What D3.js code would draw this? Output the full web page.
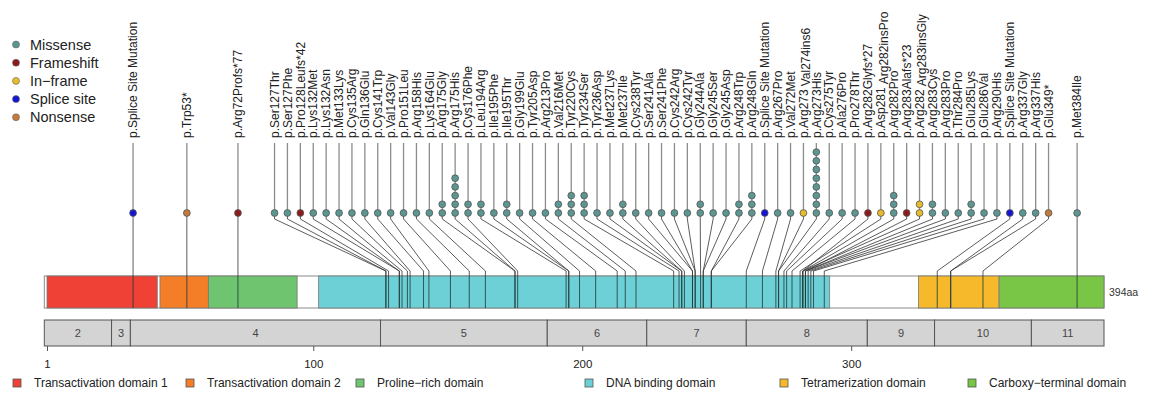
<!DOCTYPE html>
<html>
<head>
<meta charset="utf-8">
<script src="https://cdn.jsdelivr.net/npm/d3@7"></script>
<style>
  body { margin: 0; background: #fff; }
  svg { display: block; font-family: "Liberation Sans", Arial, sans-serif; }
</style>
</head>
<body>
<svg id="chart" width="1149" height="398"></svg>
<script>
// protein length and domains
const proteinLength = 394;
const domainNames = ["Transactivation domain 1", "Transactivation domain 2", "Proline\u2212rich domain",
  "DNA binding domain", "Tetramerization domain", "Carboxy\u2212terminal domain"];
const domainStart = [1, 43, 61, 102, 325, 355];
const domainEnd = [42, 61, 94, 292, 355, 394];
const domainColors = ["#ef4136", "#f47d28", "#6fc46f", "#6dd0d6", "#f6b92b", "#79c545"];

// exons (boundaries in amino acids)
const exonNames = ["2", "3", "4", "5", "6", "7", "8", "9", "10", "11"];
const exonBreaks = [0, 25, 32, 125, 187, 224, 261, 306, 331, 367, 394];

const axisTicks = [1, 100, 200, 300];

// mutations
const mutLabels = ["p.Splice Site Mutation", "p.Trp53*", "p.Arg72Profs*77", "p.Ser127Thr", "p.Ser127Phe",
  "p.Pro128Leufs*42", "p.Lys132Met", "p.Lys132Asn", "p.Met133Lys", "p.Cys135Arg", "p.Gln136Glu",
  "p.Cys141Trp", "p.Val143Gly", "p.Pro151Leu", "p.Arg158His", "p.Lys164Glu", "p.Arg175Gly",
  "p.Arg175His", "p.Cys176Phe", "p.Leu194Arg", "p.Ile195Phe", "p.Ile195Thr", "p.Gly199Glu",
  "p.Tyr205Asp", "p.Arg213Pro", "p.Val216Met", "p.Tyr220Cys", "p.Tyr234Ser", "p.Tyr236Asp",
  "p.Met237Lys", "p.Met237Ile", "p.Cys238Tyr", "p.Ser241Ala", "p.Ser241Phe", "p.Cys242Arg",
  "p.Cys242Tyr", "p.Gly244Ala", "p.Gly245Ser", "p.Gly245Asp", "p.Arg248Trp", "p.Arg248Gln",
  "p.Splice Site Mutation", "p.Arg267Pro", "p.Val272Met", "p.Arg273_Val274ins6", "p.Arg273His",
  "p.Cys275Tyr", "p.Ala276Pro", "p.Pro278Thr", "p.Arg282Glyfs*27", "p.Asp281_Arg282insPro",
  "p.Arg282Pro", "p.Arg283Alafs*23", "p.Arg282_Arg283insGly", "p.Arg283Cys", "p.Arg283Pro",
  "p.Thr284Pro", "p.Glu285Lys", "p.Glu286Val", "p.Arg290His", "p.Splice Site Mutation",
  "p.Arg337Gly", "p.Arg337His", "p.Glu349*", "p.Met384Ile"];
const mutPos = [33, 53, 72, 127, 127, 128, 132, 132, 133, 135, 136, 141, 143, 151, 158, 164, 175,
  175, 176, 194, 195, 195, 199, 205, 213, 216, 220, 234, 236, 237, 237, 238, 241, 241, 242,
  242, 244, 245, 245, 248, 248, 261, 267, 272, 273, 273, 275, 276, 278, 282, 281,
  282, 283, 282, 283, 283, 284, 285, 286, 290, 332, 337, 337, 349, 384];
const mutType = ["Splice site", "Nonsense", "Frameshift", "Missense", "Missense",
  "Frameshift", "Missense", "Missense", "Missense", "Missense", "Missense",
  "Missense", "Missense", "Missense", "Missense", "Missense", "Missense",
  "Missense", "Missense", "Missense", "Missense", "Missense", "Missense",
  "Missense", "Missense", "Missense", "Missense", "Missense", "Missense",
  "Missense", "Missense", "Missense", "Missense", "Missense", "Missense",
  "Missense", "Missense", "Missense", "Missense", "Missense", "Missense",
  "Splice site", "Missense", "Missense", "In\u2212frame", "Missense",
  "Missense", "Missense", "Missense", "Frameshift", "In\u2212frame",
  "Missense", "Frameshift", "In\u2212frame", "Missense", "Missense",
  "Missense", "Missense", "Missense", "Missense", "Splice site",
  "Missense", "Missense", "Nonsense", "Missense"];
const mutCount = [1, 1, 1, 1, 1, 1, 1, 1, 1, 1, 1, 1, 1, 1, 1, 1, 2,
  5, 2, 2, 1, 2, 1, 1, 1, 2, 3, 3, 1, 1, 2, 1, 1, 1, 1,
  1, 2, 1, 1, 2, 3, 1, 1, 1, 1, 8, 1, 1, 1, 1, 1,
  3, 1, 2, 2, 1, 1, 2, 1, 1, 1, 1, 1, 1, 1];

const typeNames = ["Missense", "Frameshift", "In\u2212frame", "Splice site", "Nonsense"];
const typeColors = ["#5b9690", "#8a1c1c", "#e6bb2c", "#1414d2", "#c27b3c"];

// layout
const barTop = 276, barBottom = 308;
const exonTop = 320, exonBottom = 346;
const labelBase = 138, stemTop = 143;
const dotY = 213, dotStep = 8.7, dotR = 3.4;
const elbowTop = 219, elbowBottom = 271;
const labelGap = 12.9;

const svg = d3.select("#chart");

const x = d3.scaleLinear()
  .domain([1, proteinLength])
  .range([47, 1104]);

const color = d3.scaleOrdinal().domain(typeNames).range(typeColors);

const muts = mutLabels.map((label, i) => ({
  label: label, pos: mutPos[i], type: mutType[i], count: mutCount[i]
}));

// spread labels so they don't overlap (clusters centred on mean position)
let clusters = muts.map(d => ({ items: [d], sum: x(d.pos) }));
let merged = true;
while (merged) {
  merged = false;
  for (let i = 0; i < clusters.length - 1; i++) {
    const a = clusters[i], b = clusters[i + 1];
    const aRight = a.sum / a.items.length + (a.items.length - 1) * labelGap / 2;
    const bLeft = b.sum / b.items.length - (b.items.length - 1) * labelGap / 2;
    if (bLeft - aRight < labelGap) {
      clusters.splice(i, 2, { items: a.items.concat(b.items), sum: a.sum + b.sum });
      merged = true;
      break;
    }
  }
}
clusters.forEach(c => {
  const start = c.sum / c.items.length - (c.items.length - 1) * labelGap / 2;
  c.items.forEach((d, k) => { d.lx = start + k * labelGap; });
});

// backbone + domains
svg.append("rect")
  .attr("x", x(0)).attr("y", barTop)
  .attr("width", x(proteinLength) - x(0)).attr("height", barBottom - barTop)
  .attr("fill", "#fff").attr("stroke", "#8a8a8a").attr("stroke-width", 1);

svg.selectAll(".domain")
  .data(domainNames)
  .enter()
  .append("rect")
  .attr("x", (d, i) => x(domainStart[i]))
  .attr("y", barTop)
  .attr("width", (d, i) => x(domainEnd[i]) - x(domainStart[i]))
  .attr("height", barBottom - barTop)
  .attr("fill", (d, i) => domainColors[i])
  .attr("stroke", "#777")
  .attr("stroke-width", 0.8);

// mutation lines inside the bar
svg.selectAll(".inbar")
  .data(muts)
  .enter()
  .append("line")
  .attr("x1", d => x(d.pos)).attr("x2", d => x(d.pos))
  .attr("y1", barTop).attr("y2", barBottom)
  .attr("stroke", "#1f3a3a").attr("stroke-width", 1).attr("opacity", 0.8);

svg.append("text")
  .attr("x", x(proteinLength) + 5).attr("y", (barTop + barBottom) / 2)
  .attr("dy", "0.35em")
  .style("font-size", "10.5px").style("fill", "#333")
  .text(proteinLength + "aa");

// connectors from bar to dots
svg.selectAll(".connector")
  .data(muts)
  .enter()
  .append("path")
  .attr("d", d => `M${x(d.pos)},${barTop}L${x(d.pos)},${elbowBottom}L${d.lx},${elbowTop}L${d.lx},${dotY}`)
  .attr("fill", "none")
  .attr("stroke", "#333")
  .attr("stroke-width", 0.8);

// stems above the dots
svg.selectAll(".stem")
  .data(muts)
  .enter()
  .append("line")
  .attr("x1", d => d.lx).attr("x2", d => d.lx)
  .attr("y1", stemTop).attr("y2", dotY)
  .attr("stroke", "#8c8c8c")
  .attr("stroke-width", 1.3);

// stacked dots
const dots = [];
muts.forEach(d => {
  for (let k = 0; k < d.count; k++) dots.push({ x: d.lx, y: dotY - k * dotStep, type: d.type });
});
svg.selectAll(".dot")
  .data(dots)
  .enter()
  .append("circle")
  .attr("cx", d => d.x).attr("cy", d => d.y).attr("r", dotR)
  .attr("fill", d => color(d.type))
  .attr("stroke", "#555")
  .attr("stroke-width", 0.8);

// rotated labels (part after "_" drawn as subscript)
const labels = svg.selectAll(".mlabel")
  .data(muts)
  .enter()
  .append("text")
  .attr("transform", d => `translate(${d.lx},${labelBase}) rotate(-90)`)
  .attr("dy", "0.35em")
  .style("font-size", "12px")
  .style("fill", "#222");
labels.each(function (d) {
  const parts = d.label.split("_");
  const t = d3.select(this);
  t.append("tspan").text(parts[0]);
  if (parts.length > 1) {
    t.append("tspan").attr("dx", 3).attr("dy", 2.5).text(parts[1]);
  }
});

// exon boxes
svg.selectAll(".exon")
  .data(exonNames)
  .enter()
  .append("rect")
  .attr("x", (d, i) => x(exonBreaks[i]))
  .attr("y", exonTop)
  .attr("width", (d, i) => x(exonBreaks[i + 1]) - x(exonBreaks[i]))
  .attr("height", exonBottom - exonTop)
  .attr("fill", "#d4d4d4")
  .attr("stroke", "#555")
  .attr("stroke-width", 1);

svg.selectAll(".exonLabel")
  .data(exonNames)
  .enter()
  .append("text")
  .attr("x", (d, i) => (x(exonBreaks[i]) + x(exonBreaks[i + 1])) / 2)
  .attr("y", (exonTop + exonBottom) / 2)
  .attr("dy", "0.35em")
  .attr("text-anchor", "middle")
  .style("font-size", "11px")
  .style("fill", "#444")
  .text(d => d);

// axis
const axis = svg.append("g")
  .attr("transform", "translate(0," + exonBottom + ")")
  .call(d3.axisBottom(x).tickValues(axisTicks).tickSize(5).tickPadding(9).tickFormat(d3.format("d")));
axis.select(".domain").remove();
axis.selectAll("line").style("stroke", "#555");
axis.selectAll("text").style("font-size", "11.5px").style("fill", "#222")
  .style("font-family", "'Liberation Sans', Arial, sans-serif");

// mutation type legend
const typeLegend = svg.append("g");
typeNames.forEach((name, i) => {
  const y = 44.5 + i * 18.2;
  typeLegend.append("circle")
    .attr("cx", 16).attr("cy", y).attr("r", 3.5)
    .attr("fill", typeColors[i]).attr("stroke", "#666").attr("stroke-width", 0.6);
  typeLegend.append("text")
    .attr("x", 30).attr("y", y).attr("dy", "0.35em")
    .style("font-size", "14.5px").style("fill", "#222")
    .text(name);
});

// domain legend
const legendX = [17, 190, 360, 589, 784, 972];
const domLegend = svg.append("g");
domainNames.forEach((name, i) => {
  domLegend.append("rect")
    .attr("x", legendX[i] - 4).attr("y", 379)
    .attr("width", 8).attr("height", 8)
    .attr("fill", domainColors[i]).attr("stroke", "#555").attr("stroke-width", 0.8);
  domLegend.append("text")
    .attr("x", legendX[i] + 17).attr("y", 383).attr("dy", "0.35em")
    .style("font-size", "12px").style("fill", "#222")
    .text(name);
});
</script>
</body>
</html>
